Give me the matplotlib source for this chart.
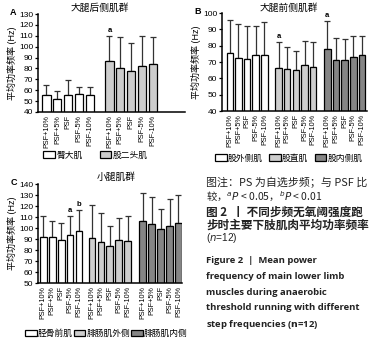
import matplotlib
matplotlib.use("Agg")
import matplotlib.pyplot as plt
import numpy as np

plt.rcParams['font.family'] = ['Liberation Sans', 'Noto Sans CJK SC', 'DejaVu Sans']
plt.rcParams['axes.unicode_minus'] = False

conds = ["PSF+10%", "PSF+5%", "PSF", "PSF-5%", "PSF-10%"]

# panel A: 大腿后侧肌群
a_names = ["臀大肌", "股二头肌"]
a_mean = [[56, 51.5, 56, 56.5, 55.5], [87, 80, 78, 82.5, 84]]
a_sd = [[9, 8, 13, 6.5, 7.5], [23, 29, 25, 27, 25]]
a_sig = [["", "", "", "", ""], ["a", "", "", "", ""]]

# panel B: 大腿前侧肌群
b_names = ["股外侧肌", "股直肌", "股内侧肌"]
b_mean = [[75.5, 72.5, 72, 74, 74.5], [66.5, 65.5, 65, 68, 67], [78, 71.5, 71.5, 73, 74]]
b_sd = [[20.5, 21, 20, 18, 20], [15.5, 13.5, 12, 15, 15], [17, 13.5, 12.5, 13, 12]]
b_sig = [["", "", "", "", ""], ["a", "", "", "", ""], ["a", "", "", "", ""]]

# panel C: 小腿肌群
c_names = ["胫骨前肌", "腓肠肌外侧", "腓肠肌内侧"]
c_mean = [[92, 91.5, 89.5, 94, 97], [90.5, 87, 83.5, 89, 88], [106.5, 103.5, 99, 101.5, 105]]
c_sd = [[19, 14.5, 15.5, 16.5, 19.5], [30.5, 26.5, 18, 20.5, 22.5], [25.5, 24.5, 18.5, 25, 25]]
c_sig = [["", "", "", "a", "b"], ["", "", "", "", ""], ["", "", "", "", ""]]

colors = ["white", "#cdcdcd", "#858585"]

fig = plt.figure(figsize=(3.85, 3.40), dpi=100)


def panel(rect, letter, title, title_xy, names, means, sds, sigs, ylim, yticks, gaps, xlim,
          leg_x, leg_y, colspace):
    ax = fig.add_axes(rect)
    pos_all = []
    start = 0
    for g in range(len(means)):
        x = start + np.arange(5)
        ax.bar(x, means[g], 0.75, color=colors[g], edgecolor="black", linewidth=0.9,
               label=names[g], zorder=2)
        ax.errorbar(x, means[g], yerr=[np.zeros(5), sds[g]], fmt="none", ecolor="#333333",
                    elinewidth=0.9, capsize=2.2, capthick=0.9, zorder=1)
        for i in range(5):
            if sigs[g][i]:
                ax.text(x[i], means[g][i] + sds[g][i] + (ylim[1] - ylim[0]) * 0.02, sigs[g][i],
                        ha="center", va="bottom", fontsize=5.5, fontweight="bold")
        pos_all += list(x)
        if g < len(gaps):
            start = x[-1] + gaps[g]
    ax.set_ylim(ylim)
    ax.set_yticks(yticks)
    ax.set_xlim(xlim)
    ax.set_xticks(pos_all)
    ax.set_xticklabels(conds * len(means), rotation=90, fontsize=5.2)
    ax.tick_params(axis="x", length=0, pad=2)
    ax.tick_params(axis="y", labelsize=6, length=2.5, width=0.9, pad=1)
    for s in ["top", "right"]:
        ax.spines[s].set_visible(False)
    for s in ["left", "bottom"]:
        ax.spines[s].set_linewidth(1.1)
    ax.set_ylabel("平均功率频率 (Hz)", fontsize=6.5, labelpad=1)
    ax.text(title_xy[0], title_xy[1], title, transform=ax.transAxes, fontsize=7, ha="center",
            va="center", family=["Noto Sans CJK SC"])
    ax.text(-0.19, 1.02, letter, transform=ax.transAxes, fontsize=6.5, fontweight="bold",
            ha="left", va="center")
    ax.legend(loc="center left", bbox_to_anchor=(leg_x, leg_y), bbox_transform=fig.transFigure,
              ncol=len(names), frameon=False, handlelength=1.35, handleheight=0.7,
              handletextpad=0.15, columnspacing=colspace, borderpad=0, borderaxespad=0,
              prop={"family": ["Noto Sans CJK SC"], "size": 6.3})
    return ax


panel([0.0987, 0.6706, 0.3818, 0.2882], "A", "大腿后侧肌群", (0.42, 1.06), a_names, a_mean, a_sd,
      a_sig, (40, 130), range(40, 131, 10), [1.75], (-0.77, 12.65), 0.112, 0.544, 1.95)
panel([0.5766, 0.6735, 0.3764, 0.2882], "B", "大腿前侧肌群", (0.46, 1.055), b_names, b_mean, b_sd,
      b_sig, (40, 100), range(40, 101, 10), [1.64, 1.64], (-0.9, 15.85), 0.558, 0.535, 0.7)
panel([0.0987, 0.1676, 0.3740, 0.2912], "C", "小腿肌群", (0.54, 1.07), c_names, c_mean, c_sd,
      c_sig, (50, 140), range(50, 141, 10), [1.45, 1.7], (-0.6, 15.55), 0.065, 0.02, 0.05)

# caption
fig.text(0.535, 0.465, "图注：PS 为自选步频；与 PSF 比", fontsize=7.9,
         family=["Noto Sans CJK SC"], va="center", color="#222222")
fig.text(0.535, 0.423, "较，$^{a}$$P$ < 0.05，$^{b}$$P$ < 0.01", fontsize=7.5,
         family=["Noto Sans CJK SC"], va="center", color="#222222")
fig.text(0.535, 0.377, "图 2  丨 不同步频无氧阈强度跑", fontsize=8.4, fontweight="bold",
         family=["Noto Sans CJK SC"], va="center", color="#222222")
fig.text(0.535, 0.338, "步时主要下肢肌肉平均功率频率", fontsize=8.4, fontweight="bold",
         family=["Noto Sans CJK SC"], va="center", color="#222222")
fig.text(0.535, 0.300, "($n$=12)", fontsize=7.3, va="center", color="#222222")
eng = ["Figure 2  |  Mean power", "frequency of main lower limb",
       "muscles during anaerobic", "threshold running with different",
       "step frequencies ($\\mathbf{n}$=12)"]
ys = [0.235, 0.188, 0.141, 0.097, 0.047]
for t, y in zip(eng, ys):
    fig.text(0.535, y, t, fontsize=6.8, fontweight="bold", va="center", color="#222222",
             family=["Open Sans", "DejaVu Sans"])

fig.savefig("out.png", dpi=100)
